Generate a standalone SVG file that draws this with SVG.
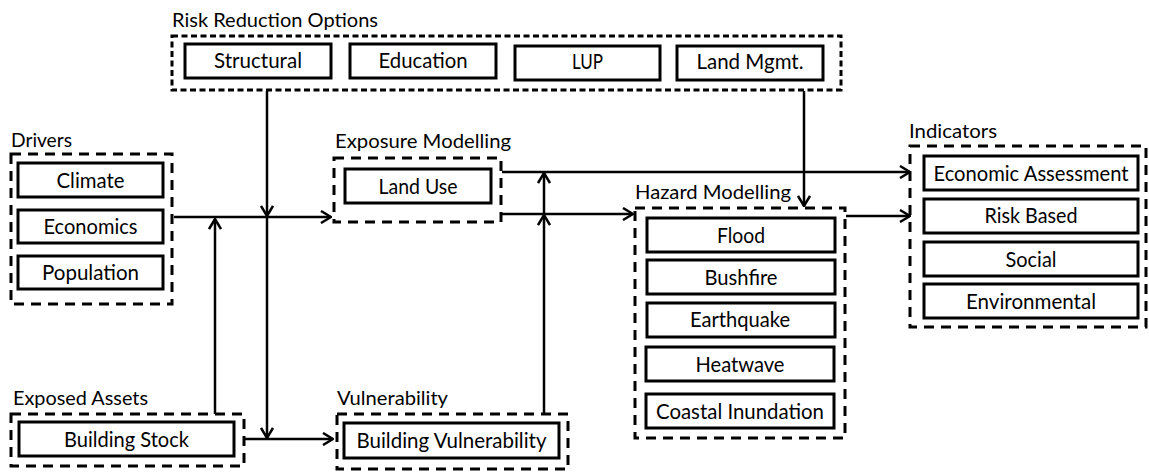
<svg xmlns="http://www.w3.org/2000/svg" width="1149" height="475" viewBox="0 0 1149 475">
<style>
.box{fill:#fff;stroke:#000;stroke-width:3}
.grp{fill:none;stroke:#000;stroke-width:3;stroke-dasharray:10 7}
.grp2{fill:none;stroke:#000;stroke-width:3;stroke-dasharray:6 3.5}
.t{font-family:Lato,"Liberation Sans",sans-serif;font-size:21px;fill:#000;text-anchor:middle}
.lbl{font-family:Lato,"Liberation Sans",sans-serif;font-size:20px;fill:#000}
.c{fill:none;stroke:#000;stroke-width:2.5}
</style>
<defs>
<marker id="ah" markerUnits="userSpaceOnUse" viewBox="0 0 12 14" refX="11" refY="7" markerWidth="12" markerHeight="14" orient="auto">
<path d="M1,1 L11,7 L1,13" fill="none" stroke="#000" stroke-width="2.5"/>
</marker>
</defs>

<g id="risk-reduction-options">
<text class="lbl" x="172" y="27" textLength="206" lengthAdjust="spacingAndGlyphs">Risk Reduction Options</text>
<rect class="grp2" x="172" y="36" width="669" height="54"/>
<g id="structural"><rect class="box" x="185" y="44" width="146" height="34"/><text class="t" x="258" y="68" textLength="88" lengthAdjust="spacingAndGlyphs">Structural</text></g>
<g id="education"><rect class="box" x="350" y="44" width="146" height="34"/><text class="t" x="423" y="68" textLength="89" lengthAdjust="spacingAndGlyphs">Education</text></g>
<g id="lup"><rect class="box" x="515" y="46" width="145" height="34"/><text class="t" x="587.5" y="69" textLength="31" lengthAdjust="spacingAndGlyphs">LUP</text></g>
<g id="land-mgmt"><rect class="box" x="677" y="46" width="146" height="34"/><text class="t" x="750" y="69" textLength="107" lengthAdjust="spacingAndGlyphs">Land Mgmt.</text></g>
</g>

<g id="drivers">
<text class="lbl" x="11" y="147" textLength="61" lengthAdjust="spacingAndGlyphs">Drivers</text>
<rect class="grp" x="11" y="154" width="161" height="150"/>
<g id="climate"><rect class="box" x="18" y="163" width="145" height="34"/><text class="t" x="90.5" y="187.5" textLength="68" lengthAdjust="spacingAndGlyphs">Climate</text></g>
<g id="economics"><rect class="box" x="18" y="210" width="145" height="33"/><text class="t" x="90.5" y="234" textLength="94" lengthAdjust="spacingAndGlyphs">Economics</text></g>
<g id="population"><rect class="box" x="18" y="256" width="145" height="33"/><text class="t" x="90.5" y="279.5" textLength="97" lengthAdjust="spacingAndGlyphs">Population</text></g>
</g>

<g id="exposure-modelling">
<text class="lbl" x="335" y="148" textLength="176" lengthAdjust="spacingAndGlyphs">Exposure Modelling</text>
<rect class="grp" x="334" y="158" width="167" height="64"/>
<g id="land-use"><rect class="box" x="345" y="169" width="146" height="34"/><text class="t" x="418" y="193.5" textLength="79" lengthAdjust="spacingAndGlyphs">Land Use</text></g>
</g>

<g id="hazard-modelling">
<text class="lbl" x="635" y="199" textLength="156" lengthAdjust="spacingAndGlyphs">Hazard Modelling</text>
<rect class="grp" x="635" y="208" width="210" height="230"/>
<g id="flood"><rect class="box" x="647" y="218" width="188" height="34"/><text class="t" x="741" y="242.5" textLength="48" lengthAdjust="spacingAndGlyphs">Flood</text></g>
<g id="bushfire"><rect class="box" x="647" y="260" width="188" height="34"/><text class="t" x="741" y="284.5" textLength="73" lengthAdjust="spacingAndGlyphs">Bushfire</text></g>
<g id="earthquake"><rect class="box" x="647" y="303" width="188" height="34"/><text class="t" x="740" y="327" textLength="100" lengthAdjust="spacingAndGlyphs">Earthquake</text></g>
<g id="heatwave"><rect class="box" x="646" y="347" width="188" height="34"/><text class="t" x="740" y="371.5" textLength="89" lengthAdjust="spacingAndGlyphs">Heatwave</text></g>
<g id="coastal-inundation"><rect class="box" x="646" y="394" width="188" height="34"/><text class="t" x="740" y="418.5" textLength="168" lengthAdjust="spacingAndGlyphs">Coastal Inundation</text></g>
</g>

<g id="indicators">
<text class="lbl" x="909" y="138" textLength="88" lengthAdjust="spacingAndGlyphs">Indicators</text>
<rect class="grp" x="910" y="146" width="236" height="181"/>
<g id="economic-assessment"><rect class="box" x="924" y="156" width="214" height="34"/><text class="t" x="1031" y="180.5" textLength="195" lengthAdjust="spacingAndGlyphs">Economic Assessment</text></g>
<g id="risk-based"><rect class="box" x="924" y="199" width="214" height="34"/><text class="t" x="1031" y="223" textLength="93" lengthAdjust="spacingAndGlyphs">Risk Based</text></g>
<g id="social"><rect class="box" x="924" y="242" width="214" height="34"/><text class="t" x="1031" y="266.5" textLength="51" lengthAdjust="spacingAndGlyphs">Social</text></g>
<g id="environmental"><rect class="box" x="924" y="284" width="214" height="34"/><text class="t" x="1031" y="308.5" textLength="130" lengthAdjust="spacingAndGlyphs">Environmental</text></g>
</g>

<g id="exposed-assets">
<text class="lbl" x="13" y="405" textLength="135" lengthAdjust="spacingAndGlyphs">Exposed Assets</text>
<rect class="grp" x="11" y="414" width="233" height="52"/>
<g id="building-stock"><rect class="box" x="19" y="422" width="215" height="34"/><text class="t" x="126.5" y="446.5" textLength="125" lengthAdjust="spacingAndGlyphs">Building Stock</text></g>
</g>

<g id="vulnerability">
<text class="lbl" x="337" y="405" textLength="111" lengthAdjust="spacingAndGlyphs">Vulnerability</text>
<rect class="grp" x="337" y="414" width="231" height="55"/>
<g id="building-vulnerability"><rect class="box" x="344" y="423" width="215" height="35"/><text class="t" x="451.5" y="448" textLength="190" lengthAdjust="spacingAndGlyphs">Building Vulnerability</text></g>
</g>

<g id="connectors">
<path class="c" d="M174,217 H331" marker-end="url(#ah)"/>
<path class="c" d="M215,414 V219" marker-end="url(#ah)"/>
<path class="c" d="M267,91 V216" marker-end="url(#ah)"/>
<path class="c" d="M267,217 V438" marker-end="url(#ah)"/>
<path class="c" d="M245,439 H333" marker-end="url(#ah)"/>
<path class="c" d="M544,414 V215" marker-end="url(#ah)"/>
<path class="c" d="M544,215 V173" marker-end="url(#ah)"/>
<path class="c" d="M502,172 H910" marker-end="url(#ah)"/>
<path class="c" d="M502,214 H633" marker-end="url(#ah)"/>
<path class="c" d="M804,91 V206" marker-end="url(#ah)"/>
<path class="c" d="M846,216 H910" marker-end="url(#ah)"/>
</g>
</svg>
